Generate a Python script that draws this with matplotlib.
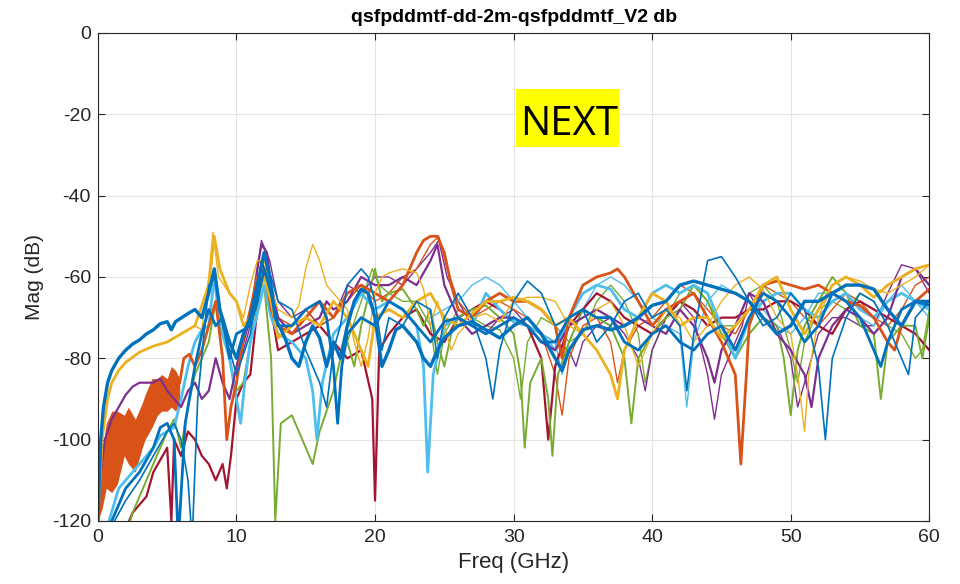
import numpy as np
import matplotlib.pyplot as plt
from matplotlib.patches import Rectangle

plt.rcParams['font.family'] = ['Liberation Sans', 'DejaVu Sans']
plt.rcParams['axes.unicode_minus'] = False

# === data: (freq GHz, magnitude dB) ===
blue_a_f = [0, 0.2, 0.4, 0.7, 1, 1.5, 2, 2.5, 3, 3.5, 4, 4.5, 5, 5.3, 5.6, 6.5, 7, 7.5, 8, 8.4, 8.8, 9.5, 10, 10.5, 11, 11.5, 12, 12.4, 12.8, 13.5, 14, 14.5, 15, 15.5, 16, 16.5, 17, 17.5, 18, 18.5, 19, 19.5, 20, 20.5, 21, 21.5, 22, 23, 23.5, 24, 24.5, 25, 26, 27, 28, 29, 30, 31, 32, 33, 33.5, 34, 35, 36, 37, 38, 39, 40, 41, 42, 43, 44, 45, 46, 47, 48, 49, 50, 51, 52, 53, 54, 55, 56, 57, 58, 59, 60]
blue_a_db = [-120, -100, -92, -86, -83, -80, -78, -76.5, -75.5, -74, -73, -71.5, -71, -73, -71, -69, -68, -70, -64, -58, -68, -76, -80, -74, -70, -62, -54, -60, -70, -75, -80, -82, -76, -72, -75, -82, -76, -80, -72, -66, -63, -64, -70, -82, -78, -73, -72, -76, -80, -82, -78, -75, -72, -71, -73, -75, -72, -70, -74, -80, -83, -78, -73, -72, -73, -72, -70, -67, -66, -62, -61, -62, -63, -64, -66, -70, -74, -72, -66, -66, -64, -62, -62, -63, -68, -72, -66, -66]

blue_b_f = [1.2, 2, 3, 4, 5, 5.5, 6, 6.5, 6.8, 7.2, 8, 8.5, 9, 10, 11, 12, 12.5, 13, 14, 15, 16, 16.5, 17, 17.5, 18, 19, 19.5, 20, 20.5, 21, 22, 23, 24, 24.5, 25, 26, 27, 28, 28.5, 29, 30, 31, 32, 33, 34, 35, 36, 37, 38, 39, 40, 41, 42, 42.5, 43, 44, 45, 46, 47, 48, 49, 50, 51, 52, 52.5, 53, 54, 55, 56, 57, 58, 58.5, 59, 60]
blue_b_db = [-120, -115, -110, -104, -98, -96, -100, -110, -125, -90, -62, -60, -72, -84, -74, -54, -60, -66, -68, -78, -86, -92, -78, -72, -62, -58, -60, -66, -78, -70, -72, -66, -68, -80, -70, -64, -70, -80, -90, -78, -66, -61, -64, -72, -70, -68, -76, -72, -66, -64, -70, -68, -72, -88, -74, -56, -55, -60, -66, -72, -70, -64, -68, -82, -100, -80, -70, -64, -66, -72, -80, -84, -70, -66]

blue_c_f = [0.5, 1, 2, 3, 4, 4.5, 5, 5.5, 5.8, 6.3, 7, 7.5, 8, 8.5, 9, 9.5, 10, 11, 11.5, 12, 12.5, 13, 14, 15, 16, 16.5, 17, 17.3, 17.6, 18, 19, 20, 21, 22, 23, 24, 25, 26, 27, 28, 29, 30, 31, 32, 33, 34, 35, 36, 37, 38, 39, 40, 41, 42, 43, 44, 45, 46, 47, 48, 49, 50, 51, 52, 53, 54, 55, 56, 56.5, 57, 58, 59, 60]
blue_c_db = [-125, -120, -112, -108, -102, -97, -96, -100, -125, -96, -82, -74, -68, -72, -70, -80, -74, -72, -66, -58, -64, -72, -72, -68, -66, -70, -82, -96, -82, -74, -70, -72, -66, -68, -72, -76, -71, -70, -72, -74, -72, -70, -72, -76, -76, -70, -68, -70, -70, -76, -78, -74, -72, -76, -78, -74, -72, -78, -70, -64, -66, -70, -76, -72, -64, -66, -70, -78, -82, -76, -68, -66, -67]

yellow_a_f = [0, 0.3, 0.7, 1, 1.5, 2, 3, 4, 5, 6, 7, 8, 8.4, 8.8, 9.5, 10, 10.5, 11, 12, 12.5, 13, 14, 15, 16, 17, 18, 19, 19.5, 20, 21, 22, 23, 24, 25, 26, 27, 28, 29, 30, 31, 32, 33, 34, 35, 36, 37, 37.5, 38, 39, 40, 41, 42, 43, 44, 45, 46, 47, 48, 49, 50, 51, 52, 53, 54, 55, 56, 57, 58, 59, 60]
yellow_a_db = [-120, -100, -90, -86, -83, -81, -78.5, -77, -76, -74, -72, -62, -50, -58, -64, -66, -72, -70, -60, -66, -75, -72, -70, -72, -66, -70, -78, -82, -70, -68, -70, -66, -64, -70, -72, -69, -66, -66, -65, -66, -68, -72, -70, -74, -78, -84, -90, -78, -70, -64, -66, -72, -70, -70, -75, -72, -68, -62, -60, -68, -74, -68, -62, -60, -62, -65, -62, -60, -58, -57]

yellow_b_f = [7, 7.5, 8, 8.3, 8.7, 9.5, 10, 10.5, 11, 11.5, 12, 12.5, 13, 14, 14.5, 15, 15.5, 16, 16.5, 17, 18, 18.5, 19, 19.5, 20, 20.5, 21, 22, 23, 23.5, 24, 24.5, 25, 25.5, 26, 27, 28, 29, 30, 31, 32, 33, 34, 35, 36, 37, 38, 39, 40, 41, 42, 43, 44, 45, 46, 47, 48, 49, 50, 50.5, 51, 51.3, 52, 53, 54, 55, 56, 57, 58, 59, 60]
yellow_b_db = [-72, -73, -60, -49, -60, -64, -66, -70, -62, -56, -56, -63, -68, -70, -67, -58, -52, -56, -62, -64, -68, -76, -82, -75, -64, -60, -59, -58, -59, -63, -72, -66, -72, -78, -74, -70, -69, -71, -66, -65, -65, -66, -72, -74, -68, -66, -72, -82, -74, -68, -70, -76, -72, -66, -62, -60, -63, -70, -74, -84, -98, -84, -70, -62, -60, -61, -63, -64, -62, -60, -57]

# orange ripple band at low frequency
orange_band_f = [0, 0.3, 0.6, 1.0, 1.4, 1.9, 2.2, 2.7, 3.2, 3.4, 3.9, 4.3, 4.6, 5.0, 5.3, 5.6, 5.9]
orange_band_hi = [-120, -103, -96, -93, -93, -94, -92, -95, -91, -89, -85, -85, -84, -85, -82, -83, -85]
orange_band_lo = [-120, -117, -112, -113, -111, -104, -106, -108, -102, -100, -97, -94, -93, -93, -92, -93, -91]

orange_f = [5.9, 6.2, 6.6, 7, 7.5, 8, 8.5, 9, 9.3, 9.6, 10, 10.5, 11, 11.5, 12, 12.5, 13, 14, 15, 16, 17, 18, 19, 20, 21, 22, 23, 23.5, 24, 24.5, 25, 25.5, 26, 27, 28, 29, 30, 31, 32, 33, 33.5, 34, 35, 36, 37, 37.5, 38, 39, 40, 41, 42, 43, 44, 45, 46, 46.4, 46.8, 47, 48, 49, 50, 51, 52, 53, 54, 55, 56, 57, 57.5, 58, 59, 60]
orange_db = [-86, -80, -79, -82, -78, -72, -66, -80, -100, -92, -86, -75, -68, -60, -58, -68, -72, -74, -70, -66, -70, -64, -62, -64, -66, -62, -54, -51, -50, -50, -54, -62, -68, -70, -66, -64, -66, -66, -68, -72, -80, -70, -62, -60, -59, -58, -60, -66, -72, -68, -66, -64, -70, -76, -84, -106, -84, -72, -62, -61, -62, -63, -62, -64, -66, -67, -70, -76, -78, -72, -66, -63]

orange2_f = [12, 13, 14, 15, 16, 17, 18, 19, 20, 21, 22, 23, 24, 24.6, 25.2, 26, 27, 28, 29, 30, 31, 32, 33, 33.5, 34, 35, 36, 37, 37.5, 38, 39, 40, 41, 42, 43, 44, 45, 46, 47, 48, 49, 50, 51, 52, 53, 54, 55, 56, 57, 58, 59, 60]
orange2_db = [-60, -70, -72, -68, -72, -70, -66, -62, -66, -64, -60, -58, -52, -50, -58, -66, -70, -68, -66, -68, -70, -74, -84, -94, -80, -72, -70, -76, -86, -78, -72, -70, -66, -62, -64, -68, -72, -74, -68, -62, -64, -66, -70, -72, -68, -64, -66, -70, -72, -68, -62, -60]

purple_f = [0, 0.2, 0.5, 1, 1.5, 2, 2.5, 3, 4, 4.5, 5, 5.5, 6, 6.5, 7, 7.5, 8, 8.5, 9, 9.5, 10, 11, 11.5, 11.8, 12.2, 12.5, 13, 14, 15, 16, 16.5, 17, 18, 19, 20, 21, 22, 23, 24, 24.5, 25, 26, 27, 28, 29, 30, 31, 32, 33, 34, 35, 36, 37, 38, 39, 40, 41, 42, 43, 44, 44.5, 45, 46, 47, 48, 49, 50, 51, 51.5, 52, 53, 54, 55, 56, 57, 58, 59, 60]
purple_db = [-120, -108, -100, -95, -92, -89, -87, -86, -86, -85, -88, -90, -92, -88, -86, -90, -88, -80, -86, -90, -82, -70, -58, -52, -54, -62, -70, -74, -72, -70, -66, -68, -66, -60, -62, -62, -60, -62, -56, -52, -62, -70, -74, -72, -70, -70, -72, -76, -78, -72, -70, -68, -70, -72, -70, -72, -74, -68, -72, -80, -86, -78, -72, -64, -66, -74, -78, -84, -92, -80, -72, -68, -70, -74, -70, -60, -58, -62]

purple2_f = [10, 11, 11.8, 12.4, 13, 14, 15, 16, 17, 18, 19, 20, 21, 22, 23, 24, 24.6, 25.2, 26, 27, 28, 29, 30, 31, 32, 33, 34, 34.5, 35, 36, 37, 38, 39, 39.5, 40, 41, 42, 43, 44, 44.5, 45, 46, 46.5, 47, 48, 49, 50, 50.5, 51, 52, 53, 54, 55, 56, 57, 58, 59, 60]
purple2_db = [-84, -72, -51, -56, -66, -70, -68, -72, -70, -62, -64, -60, -60, -62, -58, -54, -51, -60, -66, -72, -74, -70, -68, -72, -74, -76, -78, -82, -76, -72, -70, -74, -80, -88, -78, -70, -66, -70, -84, -95, -84, -76, -72, -64, -70, -72, -80, -92, -86, -74, -70, -70, -72, -72, -64, -57, -58, -64]

green_f = [2, 2.5, 3, 4, 5, 5.5, 6, 6.5, 7, 8, 8.5, 9, 9.5, 10, 10.5, 11, 11.5, 12, 12.5, 12.8, 13.2, 14, 15, 15.5, 16, 17, 17.5, 18, 18.5, 19, 20, 20.5, 21, 22, 23, 23.5, 24, 24.5, 25, 25.5, 26, 27, 28, 29, 30, 30.5, 30.8, 31.2, 32, 32.5, 32.8, 33.2, 34, 35, 36, 37, 38, 38.5, 39, 40, 41, 42, 43, 44, 45, 46, 47, 48, 49, 49.5, 50, 50.5, 51, 52, 53, 54, 55, 56, 56.5, 57, 58, 59, 59.5, 60]
green_db = [-124, -118, -114, -106, -98, -95, -102, -92, -84, -76, -66, -72, -80, -88, -86, -76, -68, -62, -80, -120, -96, -94, -102, -106, -98, -88, -80, -76, -82, -72, -58, -66, -64, -63, -68, -72, -68, -76, -82, -74, -70, -68, -67, -70, -74, -84, -102, -86, -80, -90, -104, -84, -76, -68, -70, -72, -80, -96, -80, -74, -70, -68, -62, -66, -74, -80, -74, -70, -72, -80, -94, -78, -72, -66, -60, -64, -72, -74, -90, -76, -72, -72, -80, -70]

green2_f = [18, 19, 19.8, 20.3, 21, 22, 23, 24, 24.5, 25, 26, 27, 28, 29, 30, 30.5, 31, 32, 33, 34, 35, 36, 37, 38, 39, 39.5, 40, 41, 42, 43, 44, 45, 46, 47, 48, 49, 50, 50.5, 51, 52, 53, 54, 55, 56, 57, 58, 59, 59.5, 60]
green2_db = [-76, -66, -58, -62, -64, -66, -66, -72, -84, -74, -68, -70, -72, -73, -80, -90, -76, -70, -72, -76, -74, -66, -62, -66, -74, -86, -78, -70, -64, -62, -66, -72, -72, -64, -62, -66, -78, -86, -76, -68, -66, -68, -64, -66, -72, -74, -80, -78, -68]

lightblue_f = [0.8, 1.5, 2, 3, 4, 4.5, 5, 5.5, 6, 6.5, 7, 7.5, 8, 8.4, 8.8, 9.5, 10, 10.3, 10.6, 11, 12, 12.5, 13, 14, 15, 15.5, 15.8, 16.2, 17, 18, 19, 20, 21, 22, 23, 23.5, 23.8, 24.2, 25, 26, 27, 28, 29, 30, 31, 32, 33, 34, 35, 36, 37, 38, 39, 40, 41, 42, 43, 44, 45, 46, 47, 48, 49, 50, 51, 52, 53, 54, 55, 56, 57, 58, 59, 60]
lightblue_db = [-120, -112, -110, -106, -102, -99, -98, -97, -90, -82, -76, -73, -72, -60, -72, -80, -90, -96, -86, -76, -62, -70, -74, -76, -80, -88, -100, -86, -74, -70, -64, -68, -66, -68, -72, -82, -108, -84, -72, -70, -72, -64, -68, -71, -72, -74, -78, -70, -64, -62, -63, -68, -70, -64, -62, -64, -62, -64, -72, -80, -70, -66, -64, -64, -68, -70, -66, -64, -68, -70, -66, -64, -66, -68]

lightblue2_f = [24, 25, 26, 27, 28, 29, 30, 31, 32, 33, 33.5, 34, 35, 36, 37, 38, 39, 40, 41, 42, 42.5, 43, 44, 45, 46, 47, 48, 49, 50, 51, 52, 53, 54, 55, 56, 57, 58, 59, 60]
lightblue2_db = [-70, -68, -66, -62, -60, -62, -66, -70, -74, -76, -84, -76, -68, -62, -60, -62, -66, -70, -72, -74, -92, -76, -66, -62, -64, -66, -68, -72, -74, -70, -64, -64, -66, -70, -72, -66, -62, -66, -70]

darkred_f = [2, 2.5, 3, 3.5, 4, 5, 5.3, 5.5, 6, 6.5, 7, 7.5, 8, 8.5, 9, 9.3, 9.6, 10, 10.5, 11, 11.5, 11.8, 12.2, 12.6, 13, 14, 15, 16, 17, 18, 19, 19.8, 20, 20.3, 21, 22, 23, 24, 25, 26, 27, 28, 29, 30, 31, 32, 32.5, 33, 34, 35, 36, 37, 38, 39, 40, 41, 42, 43, 44, 45, 46, 47, 48, 49, 50, 51, 52, 53, 54, 55, 56, 57, 58, 59, 60]
darkred_db = [-122, -118, -116, -114, -108, -102, -120, -100, -104, -98, -100, -104, -106, -110, -106, -112, -104, -90, -86, -84, -68, -56, -60, -70, -78, -76, -74, -72, -76, -80, -78, -90, -115, -78, -74, -70, -68, -74, -76, -70, -68, -66, -68, -71, -72, -80, -100, -82, -72, -68, -64, -66, -70, -72, -74, -70, -66, -68, -72, -70, -70, -68, -68, -66, -66, -68, -72, -74, -68, -66, -68, -70, -72, -74, -78]

# (x, y, color, linewidth in pt)
curves = [
    (green2_f, green2_db, '#77AC30', 1.0),
    (purple2_f, purple2_db, '#7E2F8E', 1.0),
    (orange2_f, orange2_db, '#D95319', 1.0),
    (lightblue2_f, lightblue2_db, '#4DBEEE', 1.0),
    (darkred_f, darkred_db, '#A2142F', 1.6),
    (green_f, green_db, '#77AC30', 1.4),
    (lightblue_f, lightblue_db, '#4DBEEE', 2.0),
    (purple_f, purple_db, '#7E2F8E', 1.6),
    (orange_f, orange_db, '#D95319', 2.0),
    (yellow_b_f, yellow_b_db, '#EDB120', 1.0),
    (yellow_a_f, yellow_a_db, '#EDB120', 2.0),
    (blue_c_f, blue_c_db, '#0072BD', 2.0),
    (blue_b_f, blue_b_db, '#0072BD', 1.2),
    (blue_a_f, blue_a_db, '#0072BD', 2.4),
]

fig = plt.figure(figsize=(9.6, 5.84), dpi=100)
ax = fig.add_axes([0.102, 0.108, 0.866, 0.8355])

ax.fill_between(orange_band_f, orange_band_lo, orange_band_hi, color='#D95319', lw=0)
for f, db, c, lw in curves:
    ax.plot(f, db, color=c, lw=lw, solid_joinstyle='round')

ax.set_xlim(0, 60)
ax.set_ylim(-120, 0)
ax.set_xticks(np.arange(0, 61, 10))
ax.set_yticks(np.arange(-120, 1, 20))
ax.grid(True, color='#e3e3e3', lw=0.8)
ax.set_axisbelow(True)
ax.tick_params(direction='in', top=True, right=True, labelsize=14, length=5, colors='#262626')
ax.tick_params(axis='x', pad=6)
ax.tick_params(axis='y', pad=5)
for s in ax.spines.values():
    s.set_color('#262626')

ax.set_xlabel('Freq (GHz)', fontsize=16, color='#262626', labelpad=4)
ax.set_ylabel('Mag (dB)', fontsize=15, color='#262626', labelpad=6)
ax.set_title('qsfpddmtf-dd-2m-qsfpddmtf_V2 db', fontsize=14, fontweight='bold', pad=8)

# yellow "NEXT" tag
ax.add_patch(Rectangle((0.503, 0.766), 0.124, 0.119, transform=ax.transAxes,
                       facecolor='#FFFF00', edgecolor='none', zorder=5))
ax.text(34.04, -25.1, 'NEXT', fontsize=29, family=['Open Sans', 'DejaVu Sans'],
        ha='center', va='baseline', zorder=6)

fig.savefig('out.png', dpi=100)
